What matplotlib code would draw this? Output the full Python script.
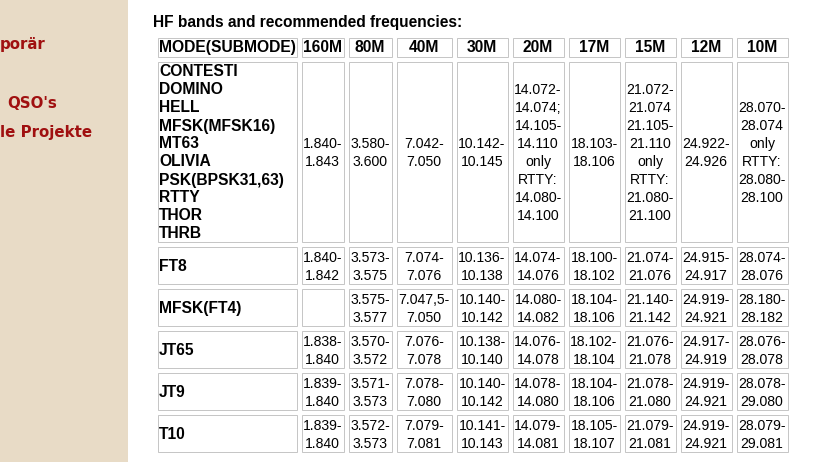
import matplotlib
matplotlib.use("Agg")
import matplotlib.pyplot as plt
from matplotlib.patches import Rectangle

# table content
title = "HF bands and recommended frequencies:"
header_mode = "MODE(SUBMODE)"
bands = ["160M", "80M", "40M", "30M", "20M", "17M", "15M", "12M", "10M"]
modes = [
    "CONTESTI\nDOMINO\nHELL\nMFSK(MFSK16)\nMT63\nOLIVIA\nPSK(BPSK31,63)\nRTTY\nTHOR\nTHRB",
    "FT8",
    "MFSK(FT4)",
    "JT65",
    "JT9",
    "T10",
]
freq_digi = ["1.840-\n1.843", "3.580-\n3.600", "7.042-\n7.050", "10.142-\n10.145",
             "14.072-\n14.074;\n14.105-\n14.110\nonly\nRTTY:\n14.080-\n14.100",
             "18.103-\n18.106",
             "21.072-\n21.074\n21.105-\n21.110\nonly\nRTTY:\n21.080-\n21.100",
             "24.922-\n24.926",
             "28.070-\n28.074\nonly\nRTTY:\n28.080-\n28.100"]
freq_ft8 = ["1.840-\n1.842", "3.573-\n3.575", "7.074-\n7.076", "10.136-\n10.138", "14.074-\n14.076",
            "18.100-\n18.102", "21.074-\n21.076", "24.915-\n24.917", "28.074-\n28.076"]
freq_ft4 = ["", "3.575-\n3.577", "7.047,5-\n7.050", "10.140-\n10.142", "14.080-\n14.082",
            "18.104-\n18.106", "21.140-\n21.142", "24.919-\n24.921", "28.180-\n28.182"]
freq_jt65 = ["1.838-\n1.840", "3.570-\n3.572", "7.076-\n7.078", "10.138-\n10.140", "14.076-\n14.078",
             "18.102-\n18.104", "21.076-\n21.078", "24.917-\n24.919", "28.076-\n28.078"]
freq_jt9 = ["1.839-\n1.840", "3.571-\n3.573", "7.078-\n7.080", "10.140-\n10.142", "14.078-\n14.080",
            "18.104-\n18.106", "21.078-\n21.080", "24.919-\n24.921", "28.078-\n29.080"]
freq_t10 = ["1.839-\n1.840", "3.572-\n3.573", "7.079-\n7.081", "10.141-\n10.143", "14.079-\n14.081",
            "18.105-\n18.107", "21.079-\n21.081", "24.919-\n24.921", "28.079-\n29.081"]
rows = [freq_digi, freq_ft8, freq_ft4, freq_jt65, freq_jt9, freq_t10]

# visible parts of the sidebar menu (cut by the page edge)
menu_items = ["porär", "QSO's", "le Projekte"]

# layout in pixels
W, H = 822, 462
PX = 72 / 100  # points per pixel at dpi 100
col_w = [140, 43, 44, 56, 52, 52, 52, 52, 52, 52]
row_h = [20, 181, 38, 38, 38, 38, 38]
gap = 4
x0, y0 = 157, 37
line_h = 18
dy = 1.5  # small baseline nudge

fig = plt.figure(figsize=(W / 100, H / 100), dpi=100)
ax = fig.add_axes([0, 0, 1, 1])
ax.set_xlim(0, W)
ax.set_ylim(H, 0)
ax.axis("off")

# sidebar
ax.add_patch(Rectangle((0, 0), 128, H, facecolor="#e8dbc6", edgecolor="none"))
menu_left = [0, 7, 0]
menu_y = [45, 103, 132]
for txt, xl, yc in zip(menu_items, menu_left, menu_y):
    ax.text(xl, yc, txt, ha="left", va="center", color="#a01010",
            fontsize=15 * PX, fontweight="bold", family="DejaVu Sans")

ax.text(153, 23, title, ha="left", va="center", fontsize=15.5 * PX,
        fontweight="bold", family="Liberation Sans", color="#000000")

lefts = [x0]
for w in col_w[:-1]:
    lefts.append(lefts[-1] + w + gap)
tops = [y0]
for h in row_h[:-1]:
    tops.append(tops[-1] + h + gap)


def cell_text(x, yc, text, ha, bold, size):
    lines = text.split("\n")
    n = len(lines)
    for i, ln in enumerate(lines):
        yy = yc + dy + (i - (n - 1) / 2) * line_h
        ax.text(x, yy, ln, ha=ha, va="center",
                fontsize=size * PX, fontweight="bold" if bold else "normal",
                family="Liberation Sans", color="#000000")


border = "#c6c6c6"
header = [header_mode] + bands
for r, h in enumerate(row_h):
    for c, w in enumerate(col_w):
        ax.add_patch(Rectangle((lefts[c] + 0.5, tops[r] + 0.5), w - 1, h - 1,
                               facecolor="white", edgecolor=border, linewidth=1 * PX))
        yc = tops[r] + h / 2
        if r == 0:
            if c == 0:
                cell_text(lefts[c] + 2, yc - 1, header[c], "left", True, 15.6)
            else:
                cell_text(lefts[c] + w / 2, yc - 1, header[c], "center", True, 15.6)
        elif c == 0:
            cell_text(lefts[c] + 2, yc, modes[r - 1], "left", True, 15.6)
        else:
            cell_text(lefts[c] + w / 2, yc, rows[r - 1][c - 1], "center", False, 14)

fig.savefig("out.png", dpi=100)
